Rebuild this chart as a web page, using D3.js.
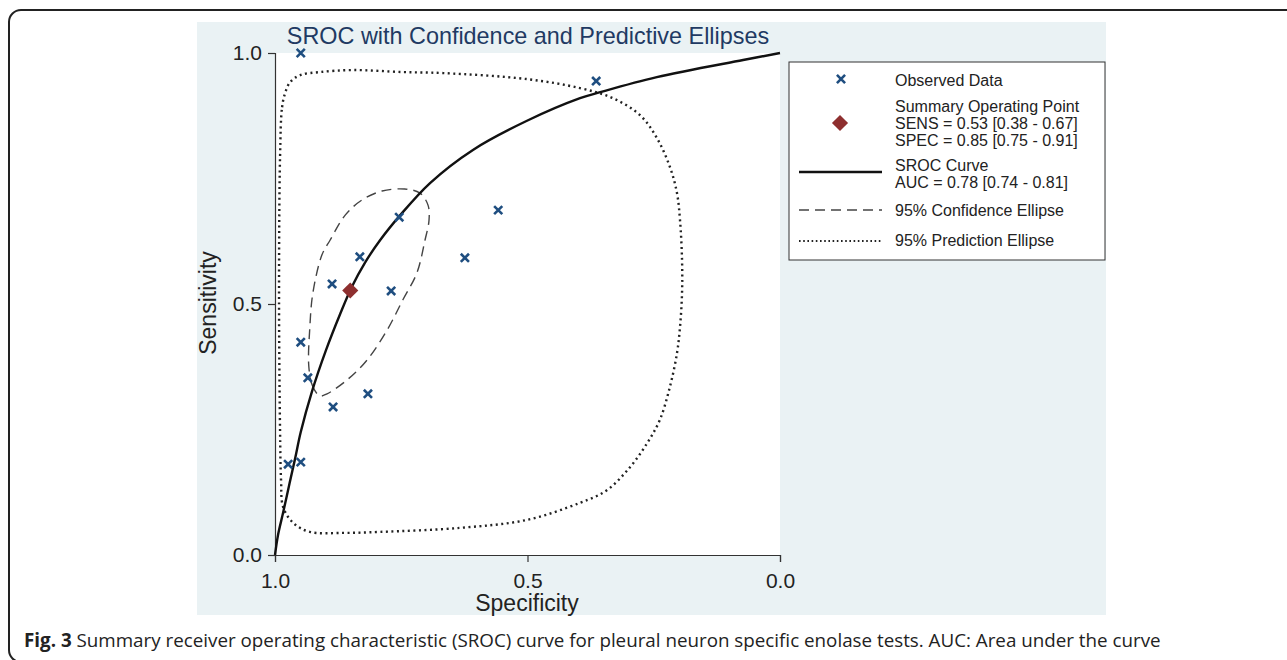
<!DOCTYPE html>
<html>
<head>
<meta charset="utf-8">
<script src="https://cdn.jsdelivr.net/npm/d3@7"></script>
<style>
  body { margin: 0; background: #fff; }
  svg { display: block; }
</style>
</head>
<body>
<div id="chart"></div>
<script>

// observed studies (specificity, sensitivity)
const obsSpec = [0.949, 0.364, 0.754, 0.558, 0.832, 0.887, 0.624, 0.770, 0.949, 0.935, 0.816, 0.885, 0.974, 0.949];
const obsSens = [1.000, 0.944, 0.673, 0.687, 0.594, 0.540, 0.592, 0.526, 0.424, 0.353, 0.321, 0.295, 0.181, 0.185];

// summary operating point
const summarySpec = 0.851;
const summarySens = 0.527;

// SROC curve
const srocSpec = [1.0, 0.994, 0.984, 0.972, 0.960, 0.949, 0.927, 0.899, 0.871, 0.848, 0.822, 0.792, 0.752, 0.693, 0.608, 0.501, 0.396, 0.356, 0.244, 0.073, 0.0];
const srocSens = [0.0, 0.040, 0.084, 0.139, 0.193, 0.245, 0.325, 0.408, 0.480, 0.534, 0.582, 0.627, 0.677, 0.741, 0.807, 0.865, 0.910, 0.922, 0.952, 0.986, 1.0];

// 95% confidence ellipse
const confSpec = [0.911, 0.925, 0.933, 0.931, 0.925, 0.907, 0.891, 0.861, 0.828, 0.788, 0.743, 0.713, 0.697, 0.695, 0.703, 0.719, 0.747, 0.778, 0.818, 0.857, 0.897];
const confSens = [0.317, 0.335, 0.375, 0.454, 0.522, 0.598, 0.627, 0.677, 0.707, 0.725, 0.729, 0.721, 0.697, 0.667, 0.627, 0.562, 0.508, 0.448, 0.388, 0.349, 0.321];

// 95% prediction ellipse
const predSpec = [0.990, 0.986, 0.980, 0.970, 0.950, 0.911, 0.846, 0.747, 0.667, 0.501, 0.396, 0.331, 0.277, 0.244, 0.218, 0.204, 0.198, 0.194, 0.194, 0.198, 0.204, 0.218, 0.238, 0.263, 0.297, 0.343, 0.396, 0.501, 0.634, 0.792, 0.865, 0.931, 0.964, 0.984, 0.988, 0.990, 0.992];
const predSens = [0.793, 0.892, 0.920, 0.942, 0.956, 0.962, 0.966, 0.962, 0.960, 0.948, 0.930, 0.910, 0.876, 0.831, 0.773, 0.721, 0.667, 0.588, 0.522, 0.454, 0.402, 0.335, 0.269, 0.223, 0.175, 0.129, 0.104, 0.070, 0.054, 0.046, 0.044, 0.046, 0.064, 0.096, 0.149, 0.249, 0.508];

const tickVals = [0, 0.5, 1];
const titleText = "SROC with Confidence and Predictive Ellipses";
const legendLabels = [
    ["Observed Data"],
    ["Summary Operating Point", "SENS = 0.53 [0.38 - 0.67]", "SPEC = 0.85 [0.75 - 0.91]"],
    ["SROC Curve", "AUC = 0.78 [0.74 - 0.81]"],
    ["95% Confidence Ellipse"],
    ["95% Prediction Ellipse"]
];

const W = 1287, H = 660;
const FONT = "Arial, 'Liberation Sans', sans-serif";
const svg = d3.select("#chart").append("svg").attr("width", W).attr("height", H);

// outer frame of the figure (rounded, runs off the right / bottom)
svg.append("rect")
    .attr("x", 9).attr("y", 10)
    .attr("width", 1320).attr("height", 652)
    .attr("rx", 12)
    .attr("fill", "none")
    .attr("stroke", "#222")
    .attr("stroke-width", 2);

// graph background
svg.append("rect")
    .attr("x", 197).attr("y", 22)
    .attr("width", 909).attr("height", 593)
    .attr("fill", "#eaf2f4");

const x = d3.scaleLinear().domain([1, 0]).range([275, 780]);
const y = d3.scaleLinear().domain([0, 1]).range([555, 53]);

svg.append("rect")
    .attr("x", x(1)).attr("y", y(1))
    .attr("width", x(0) - x(1)).attr("height", y(0) - y(1))
    .attr("fill", "#fff");

// title
svg.append("text")
    .attr("x", 528).attr("y", 44)
    .attr("text-anchor", "middle")
    .style("font-family", FONT)
    .style("font-size", "23.4px")
    .attr("fill", "#1f3a63")
    .text(titleText);

// axes
const fmt = d3.format(".1f");
let gx = svg.append("g")
    .attr("transform", `translate(0,${y(0)})`)
    .call(d3.axisBottom(x).tickValues(tickVals).tickFormat(fmt).tickSize(7).tickPadding(11));
let gy = svg.append("g")
    .attr("transform", `translate(${x(1)},0)`)
    .call(d3.axisLeft(y).tickValues(tickVals).tickFormat(fmt).tickSize(7).tickPadding(6));

[gx, gy].forEach(g => {
    g.select(".domain").attr("stroke", "#333").attr("stroke-width", 1.2);
    g.selectAll(".tick line").attr("stroke", "#333").attr("stroke-width", 1.2);
    g.selectAll(".tick text")
        .attr("fill", "#222")
        .style("font-family", FONT)
        .style("font-size", "21px");
});

svg.append("text")
    .attr("x", 527).attr("y", 611)
    .attr("text-anchor", "middle")
    .style("font-family", FONT)
    .style("font-size", "23px")
    .attr("fill", "#222")
    .text("Specificity");

svg.append("text")
    .attr("transform", "translate(216,303) rotate(-90)")
    .attr("text-anchor", "middle")
    .style("font-family", FONT)
    .style("font-size", "23px")
    .attr("fill", "#222")
    .text("Sensitivity");

// lines
const closedLine = d3.line().x(d => x(d[0])).y(d => y(d[1])).curve(d3.curveCatmullRomClosed);
const openLine = d3.line().x(d => x(d[0])).y(d => y(d[1])).curve(d3.curveCatmullRom);

svg.append("path")
    .attr("d", closedLine(d3.zip(predSpec, predSens)))
    .attr("fill", "none")
    .attr("stroke", "#222")
    .attr("stroke-width", 2.4)
    .attr("stroke-dasharray", "2,3.5");

svg.append("path")
    .attr("d", closedLine(d3.zip(confSpec, confSens)))
    .attr("fill", "none")
    .attr("stroke", "#444")
    .attr("stroke-width", 1.4)
    .attr("stroke-dasharray", "10,6");

svg.append("path")
    .attr("d", openLine(d3.zip(srocSpec, srocSens)))
    .attr("fill", "none")
    .attr("stroke", "#111")
    .attr("stroke-width", 2.4);

// observed data crosses
const cross = d3.symbol().type(d3.symbolX).size(45);
svg.append("g").selectAll("path")
    .data(d3.zip(obsSpec, obsSens))
    .enter()
    .append("path")
    .attr("d", cross)
    .attr("transform", d => `translate(${x(d[0])},${y(d[1])})`)
    .attr("fill", "none")
    .attr("stroke", "#1f4e80")
    .attr("stroke-width", 2.6);

// summary point
const diamond = d3.symbol().type(d3.symbolSquare).size(130);
svg.append("path")
    .attr("d", diamond)
    .attr("transform", `translate(${x(summarySpec)},${y(summarySens)}) rotate(45)`)
    .attr("fill", "#8e2f2f");

// legend
const lg = svg.append("g");
lg.append("rect")
    .attr("x", 789).attr("y", 62)
    .attr("width", 316).attr("height", 198)
    .attr("fill", "#fff")
    .attr("stroke", "#333")
    .attr("stroke-width", 1);

const rowY = [80, 106, 165, 210, 240];
legendLabels.forEach((lines, i) => {
    lines.forEach((t, j) => {
        lg.append("text")
            .attr("x", 895)
            .attr("y", rowY[i] + j * 17)
            .attr("dy", "0.35em")
            .style("font-family", FONT)
            .style("font-size", "16px")
            .attr("fill", "#222")
            .text(t);
    });
});

lg.append("path")
    .attr("d", cross)
    .attr("transform", "translate(841,79)")
    .attr("fill", "none")
    .attr("stroke", "#1f4e80")
    .attr("stroke-width", 2.6);
lg.append("path")
    .attr("d", diamond)
    .attr("transform", "translate(840,123) rotate(45)")
    .attr("fill", "#8e2f2f");
lg.append("line")
    .attr("x1", 799).attr("x2", 882).attr("y1", 172).attr("y2", 172)
    .attr("stroke", "#111").attr("stroke-width", 2.4);
lg.append("line")
    .attr("x1", 799).attr("x2", 882).attr("y1", 210).attr("y2", 210)
    .attr("stroke", "#444").attr("stroke-width", 1.4).attr("stroke-dasharray", "10,6");
lg.append("line")
    .attr("x1", 799).attr("x2", 882).attr("y1", 241).attr("y2", 241)
    .attr("stroke", "#222").attr("stroke-width", 1.8).attr("stroke-dasharray", "1.6,2.6");

// caption
const cap = svg.append("text")
    .attr("x", 24).attr("y", 647)
    .style("font-family", "'Open Sans', 'Noto Sans', sans-serif")
    .style("font-size", "18.8px")
    .attr("fill", "#222");
cap.append("tspan").style("font-weight", "bold").text("Fig. 3");
cap.append("tspan").text(" Summary receiver operating characteristic (SROC) curve for pleural neuron specific enolase tests. AUC: Area under the curve");

</script>
</body>
</html>
